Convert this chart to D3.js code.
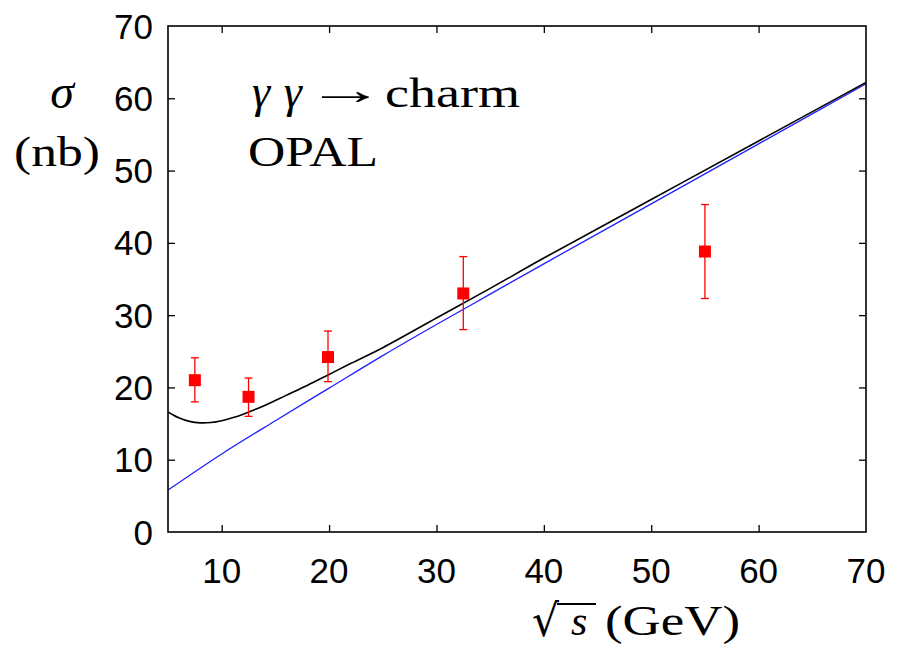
<!DOCTYPE html>
<html>
<head>
<meta charset="utf-8">
<script src="https://cdn.jsdelivr.net/npm/d3@7"></script>
<style>
  html, body { margin: 0; padding: 0; background: #fff; }
  svg { display: block; }
</style>
</head>
<body>
<svg id="chart" width="898" height="652"></svg>
<script>
// ---- data ----
const xTicks = [10, 20, 30, 40, 50, 60, 70];
const yTicks = [0, 10, 20, 30, 40, 50, 60, 70];

// OPAL data points: sqrt(s), sigma, lower, upper
const dataX   = [7.5, 12.5, 19.9, 32.5, 55.0];
const dataY   = [21.0, 18.7, 24.2, 33.0, 38.8];
const dataLo  = [18.0, 16.0, 20.8, 28.0, 32.3];
const dataHi  = [24.1, 21.3, 27.8, 38.1, 45.3];

// black curve (full prediction)
const blackX = [5, 6, 7, 8, 9, 10, 11, 12, 14, 16, 18, 20, 22, 25, 30, 35, 40, 50, 60, 70];
const blackY = [16.6, 15.8, 15.3, 15.1, 15.15, 15.4, 15.8, 16.3, 17.5, 18.9, 20.3, 21.8, 23.3, 25.5, 29.6, 33.7, 37.9, 46.0, 54.1, 62.2];

// blue curve
const blueX = [5, 10, 15, 20, 25, 30, 35, 40, 50, 60, 70];
const blueY = [5.8, 10.8, 15.4, 19.9, 24.4, 28.7, 32.9, 37.1, 45.4, 53.7, 62.0];

// ---- layout ----
const L = 168, R = 866, T = 26, B = 532;
const svg = d3.select("#chart");
const x = d3.scaleLinear().domain([5, 70]).range([L, R]);
const y = d3.scaleLinear().domain([0, 70]).range([B, T]);

svg.append("defs").append("clipPath").attr("id", "clip")
  .append("rect").attr("x", L).attr("y", T).attr("width", R - L).attr("height", B - T);

// ticks (inward, mirrored) using d3 axes
const tickLen = 7;
const innerX = xTicks.filter(d => d > 5 && d < 70);
const innerY = yTicks.filter(d => d > 0 && d < 70);

function styleAxis(g) {
  g.select(".domain").remove();
  g.selectAll("line").attr("stroke", "#000").attr("stroke-width", 1.3);
  g.selectAll("text").remove();
}
svg.append("g").attr("transform", `translate(0,${B})`)
  .call(d3.axisBottom(x).tickValues(innerX).tickSize(-tickLen)).call(styleAxis);
svg.append("g").attr("transform", `translate(0,${T})`)
  .call(d3.axisTop(x).tickValues(innerX).tickSize(-tickLen)).call(styleAxis);
svg.append("g").attr("transform", `translate(${L},0)`)
  .call(d3.axisLeft(y).tickValues(innerY).tickSize(-tickLen)).call(styleAxis);
svg.append("g").attr("transform", `translate(${R},0)`)
  .call(d3.axisRight(y).tickValues(innerY).tickSize(-tickLen)).call(styleAxis);

// tick labels
const tickFont = "'Liberation Sans', Arial, sans-serif";
svg.append("g").selectAll("text").data(xTicks).join("text")
  .attr("x", d => x(d)).attr("y", 583)
  .attr("text-anchor", "middle")
  .attr("font-family", tickFont).attr("font-size", 35)
  .text(d => d);
svg.append("g").selectAll("text").data(yTicks).join("text")
  .attr("x", 153).attr("y", d => y(d) + 12.5)
  .attr("text-anchor", "end")
  .attr("font-family", tickFont).attr("font-size", 35)
  .text(d => d);

// curves
const line = d3.line().x(d => x(d[0])).y(d => y(d[1])).curve(d3.curveCatmullRom.alpha(0.5));
const plot = svg.append("g").attr("clip-path", "url(#clip)");
plot.append("path")
  .datum(blueX.map((v, i) => [v, blueY[i]]))
  .attr("d", line).attr("fill", "none").attr("stroke", "#1f1fff").attr("stroke-width", 1.3);
plot.append("path")
  .datum(blackX.map((v, i) => [v, blackY[i]]))
  .attr("d", line).attr("fill", "none").attr("stroke", "#000").attr("stroke-width", 1.6);

// error bars
const pts = dataX.map((v, i) => ({ x: v, y: dataY[i], lo: dataLo[i], hi: dataHi[i] }));
const eb = svg.append("g").attr("stroke", "#f00").attr("stroke-width", 1.3);
eb.selectAll(".v").data(pts).join("line")
  .attr("x1", d => x(d.x)).attr("x2", d => x(d.x))
  .attr("y1", d => y(d.lo)).attr("y2", d => y(d.hi));
eb.selectAll(".lo").data(pts).join("line")
  .attr("x1", d => x(d.x) - 4).attr("x2", d => x(d.x) + 4)
  .attr("y1", d => y(d.lo)).attr("y2", d => y(d.lo));
eb.selectAll(".hi").data(pts).join("line")
  .attr("x1", d => x(d.x) - 4).attr("x2", d => x(d.x) + 4)
  .attr("y1", d => y(d.hi)).attr("y2", d => y(d.hi));
svg.append("g").selectAll("rect").data(pts).join("rect")
  .attr("x", d => x(d.x) - 6).attr("y", d => y(d.y) - 6)
  .attr("width", 12).attr("height", 12).attr("fill", "#f00");

// frame
svg.append("rect").attr("x", L).attr("y", T).attr("width", R - L).attr("height", B - T)
  .attr("fill", "none").attr("stroke", "#000").attr("stroke-width", 1.6);

// labels (serif, LaTeX-like)
const serif = "'Liberation Serif', 'DejaVu Serif', serif";
svg.append("text").attr("x", 62).attr("y", 108).attr("text-anchor", "middle")
  .attr("font-family", serif).attr("font-style", "italic").attr("font-size", 48).text("σ");
svg.append("text").attr("x", 14).attr("y", 166)
  .attr("font-family", serif).attr("font-size", 42)
  .attr("textLength", 86).attr("lengthAdjust", "spacingAndGlyphs").text("(nb)");

svg.append("text").attr("x", 252).attr("y", 107)
  .attr("font-family", serif).attr("font-style", "italic").attr("font-size", 46)
  .attr("textLength", 50).attr("lengthAdjust", "spacing").text("γγ");
svg.append("text").attr("transform", "translate(306,104) scale(1.9,1)")
  .attr("font-family", serif).attr("font-size", 42).text("→");
svg.append("text").attr("x", 385).attr("y", 107)
  .attr("font-family", serif).attr("font-size", 42)
  .attr("textLength", 135).attr("lengthAdjust", "spacingAndGlyphs").text("charm");

svg.append("text").attr("x", 248).attr("y", 166)
  .attr("font-family", serif).attr("font-size", 42)
  .attr("textLength", 130).attr("lengthAdjust", "spacingAndGlyphs").text("OPAL");

// x axis title: sqrt(s) (GeV)
const xt = svg.append("g");
xt.append("text").attr("x", 532).attr("y", 636)
  .attr("font-family", "'DejaVu Serif', serif").attr("font-size", 44)
  .attr("textLength", 27).attr("lengthAdjust", "spacingAndGlyphs").text("√");
xt.append("line").attr("x1", 557).attr("x2", 596).attr("y1", 604).attr("y2", 604)
  .attr("stroke", "#000").attr("stroke-width", 2.2);
xt.append("text").attr("x", 571).attr("y", 635)
  .attr("font-family", serif).attr("font-style", "italic").attr("font-size", 42).text("s");
xt.append("text").attr("x", 605).attr("y", 635)
  .attr("font-family", serif).attr("font-size", 42)
  .attr("textLength", 135).attr("lengthAdjust", "spacingAndGlyphs").text("(GeV)");
</script>
</body>
</html>
